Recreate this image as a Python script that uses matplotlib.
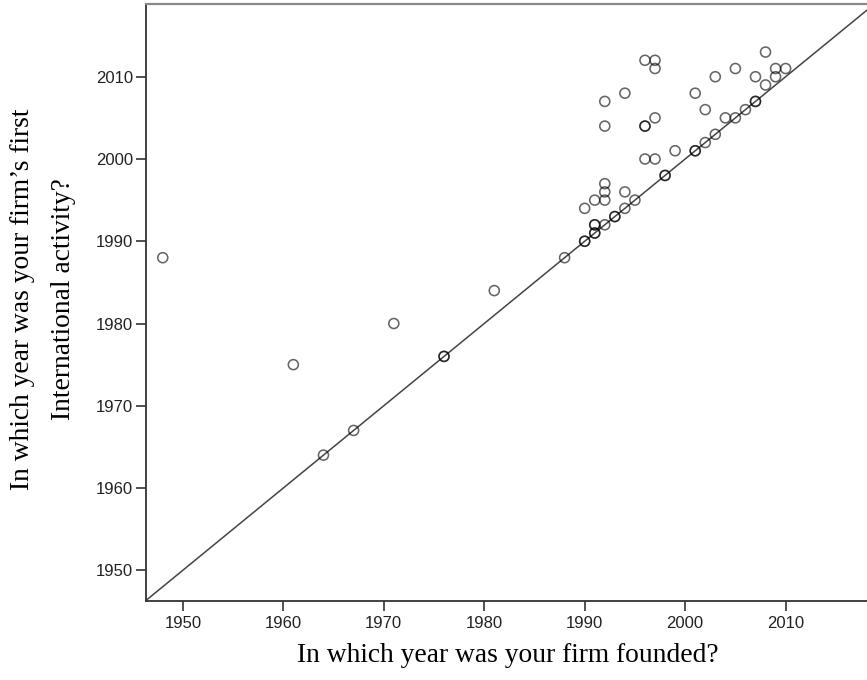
import matplotlib.pyplot as plt

# year founded vs. year of first international activity (duplicates drawn twice)
founded = [1948, 1961, 1964, 1967, 1971, 1976, 1976, 1981, 1988,
           1990, 1990, 1990, 1991, 1991, 1991, 1991, 1991,
           1992, 1992, 1992, 1992, 1992, 1992, 1993, 1993,
           1994, 1994, 1994, 1995, 1996, 1996, 1996, 1996,
           1997, 1997, 1997, 1997, 1998, 1998, 1999,
           2001, 2001, 2001, 2002, 2002, 2003, 2003, 2004,
           2005, 2005, 2006, 2007, 2007, 2007, 2008, 2008,
           2009, 2009, 2010]
first_intl = [1988, 1975, 1964, 1967, 1980, 1976, 1976, 1984, 1988,
              1990, 1990, 1994, 1991, 1991, 1992, 1992, 1995,
              1992, 1995, 1996, 1997, 2004, 2007, 1993, 1993,
              1994, 1996, 2008, 1995, 2000, 2004, 2004, 2012,
              2000, 2005, 2011, 2012, 1998, 1998, 2001,
              2001, 2001, 2008, 2002, 2006, 2003, 2010, 2005,
              2005, 2011, 2006, 2007, 2007, 2010, 2009, 2013,
              2010, 2011, 2011]

ticks = [1950, 1960, 1970, 1980, 1990, 2000, 2010]

fig = plt.figure(figsize=(8.67, 6.8), dpi=100)
ax = fig.add_axes([0.168, 0.1166, 0.832, 0.877])

ax.scatter(founded, first_intl, s=52, facecolors="none",
           edgecolors="black", linewidths=1.15, alpha=0.6, zorder=3)
ax.axline((1950, 1950), slope=1, color="#444444", lw=1.1, zorder=2)

ax.set_xlim(1946.3, 2018.1)
ax.set_ylim(1946.3, 2018.8)
ax.set_xticks(ticks)
ax.set_yticks(ticks)
ax.tick_params(direction="out", length=7, width=1.2, color="#333333",
               labelsize=12, labelcolor="#222222")
ax.tick_params(axis="y", pad=2)
ax.tick_params(axis="x", pad=4)
for lab in ax.get_xticklabels() + ax.get_yticklabels():
    lab.set_family("Liberation Sans")

ax.spines["right"].set_visible(False)
ax.spines["top"].set_color("#888888")
ax.spines["top"].set_linewidth(1.6)
for s in ["left", "bottom"]:
    ax.spines[s].set_color("#333333")
    ax.spines[s].set_linewidth(1.3)

fig.text(508 / 867, 1 - 656 / 680, "In which year was your firm founded?",
         family="Liberation Serif", fontsize=19.8, ha="center", va="center")
fig.text(43 / 867, 1 - 299 / 680,
         "In which year was your firm’s first\nInternational activity?",
         family="Liberation Serif", fontsize=19.8, rotation=90,
         ha="center", va="center", multialignment="center", linespacing=1.85)

plt.savefig("out.png", dpi=100)
